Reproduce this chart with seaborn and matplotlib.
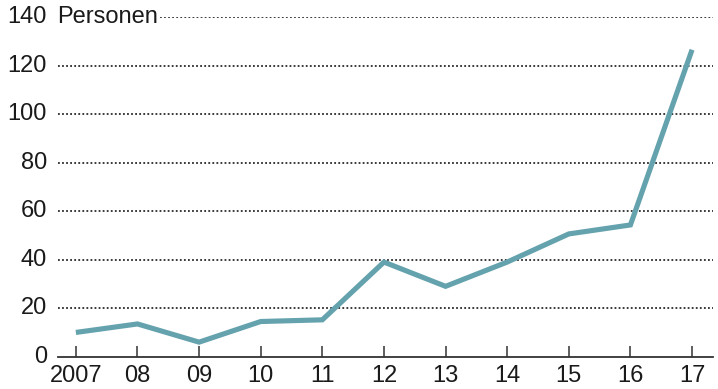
import matplotlib
matplotlib.use("Agg")
import matplotlib.pyplot as plt
import seaborn as sns
import pandas as pd

years = [2007, 2008, 2009, 2010, 2011, 2012, 2013, 2014, 2015, 2016, 2017]
year_labels = ["2007", "08", "09", "10", "11", "12", "13", "14", "15", "16", "17"]
persons = [10, 13.5, 6, 14.5, 15.2, 39, 29, 39, 50.6, 54.3, 126.5]
y_ticks = [0, 20, 40, 60, 80, 100, 120, 140]
unit_label = "Personen"

sns.set_theme(style="white")
plt.rcParams["font.family"] = ["Liberation Sans", "DejaVu Sans"]

W, H = 718, 389
fig = plt.figure(figsize=(W / 100, H / 100), dpi=100)
ax_left, ax_right, ax_bottom, ax_top = 58, 713, 389 - 356.7, 389 - 17
ax = fig.add_axes([ax_left / W, ax_bottom / H, (ax_right - ax_left) / W, (ax_top - ax_bottom) / H])

df = pd.DataFrame({"year": years, "persons": persons})
sns.lineplot(data=df, x="year", y="persons", ax=ax, color="#64a2ad", linewidth=3.7,
             solid_joinstyle="miter", solid_capstyle="butt", zorder=3)

ax.set_xlim(2006.71, 2017.34)
ax.set_ylim(0, 140)

grid_kw = dict(color="#2a2a2a", linewidth=1.3, linestyle=(0, (1, 1.25)), zorder=1)
for v in y_ticks[1:]:
    if v == y_ticks[-1]:
        ax.axhline(v, xmin=(160 - ax_left) / (ax_right - ax_left), xmax=1, **grid_kw)
    else:
        ax.axhline(v, **grid_kw)

for s in ["top", "right", "left"]:
    ax.spines[s].set_visible(False)
ax.spines["bottom"].set_color("#333333")
ax.spines["bottom"].set_linewidth(1.3)

fs = 17
ax.set_xticks(years)
ax.set_xticklabels(year_labels)
ax.set_yticks(y_ticks)
ax.set_yticklabels([str(v) for v in y_ticks])
ax.tick_params(axis="x", direction="in", length=8, width=1.1, color="#333333",
               pad=6, labelsize=fs, labelcolor="#1a1a1a", bottom=True)
ax.tick_params(axis="y", length=0, pad=8, labelsize=fs, labelcolor="#1a1a1a", left=False)
for lab in ax.get_yticklabels():
    lab.set_verticalalignment("center")

ax.text(-0.002, 140, unit_label, transform=ax.get_yaxis_transform(), ha="left",
        va="center", fontsize=fs, color="#1a1a1a")
ax.set_xlabel("")
ax.set_ylabel("")

fig.savefig("out.png", dpi=100, facecolor="white")
